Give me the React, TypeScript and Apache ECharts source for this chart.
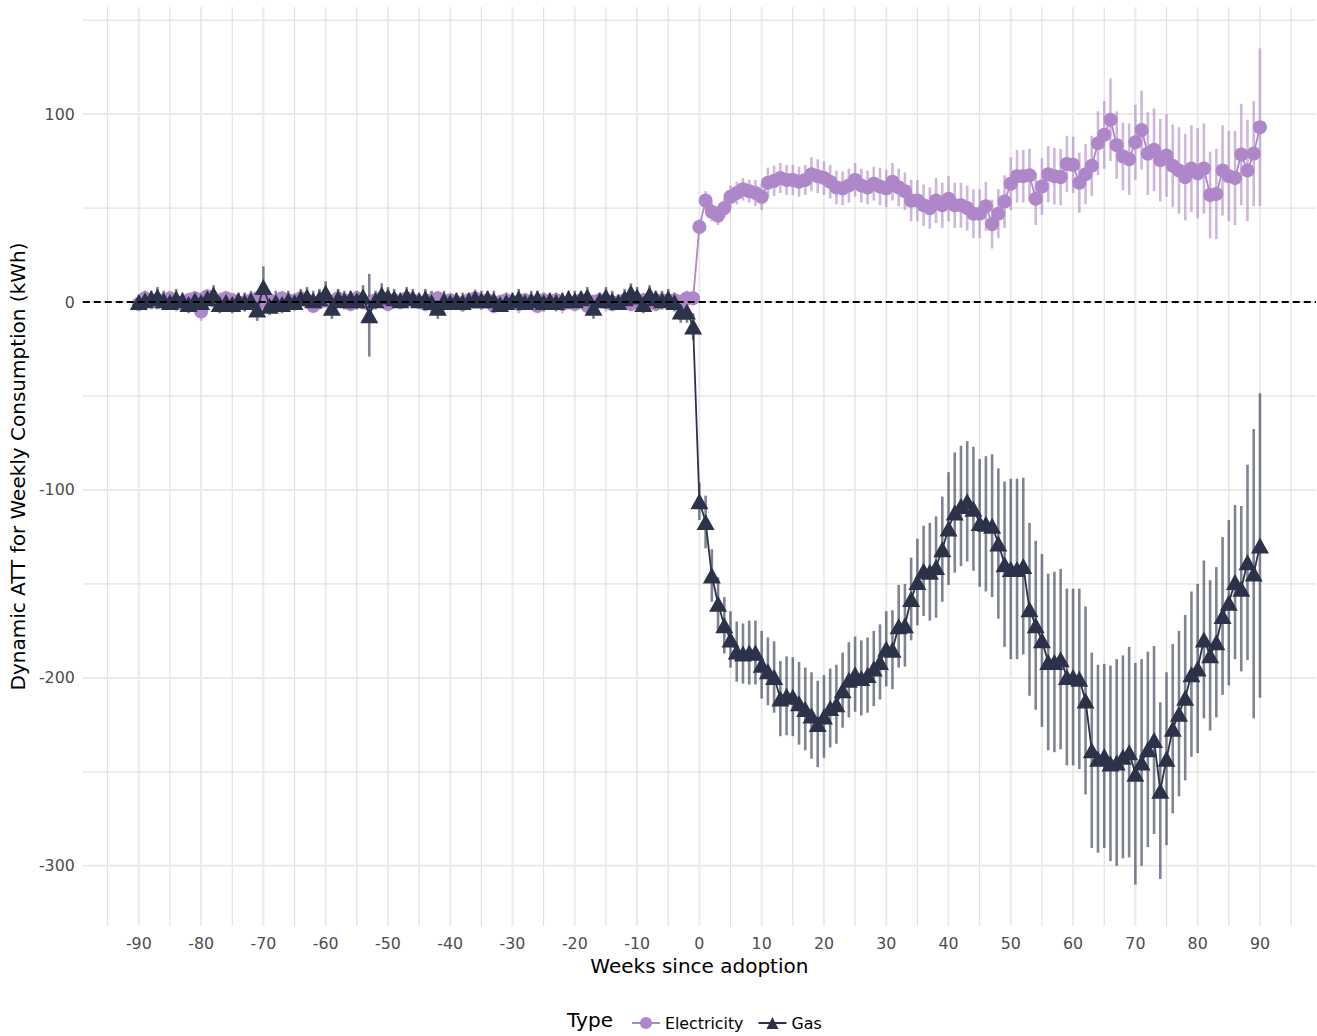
import React, { useEffect, useRef } from "react";
import * as echarts from "echarts";

const weeks: number[] = Array.from({ length: 181 }, (_, i) => i - 90);

const xMajor = [-90, -80, -70, -60, -50, -40, -30, -20, -10, 0, 10, 20, 30, 40, 50, 60, 70, 80, 90];
const xMinor = [-95, -85, -75, -65, -55, -45, -35, -25, -15, -5, 5, 15, 25, 35, 45, 55, 65, 75, 85, 95];
const yMajor = [-300, -200, -100, 0, 100];
const yMinor = [-250, -150, -50, 50, 150];

// Electricity, weeks -90..-1
const elecPre = [
  -1, 2, 1, 0, 1, 2, 0, -1, 1, 2,
  -5, 3, 1, 0, 2, 1, -1, 0, 1, 2,
  0, 1, -1, 2, 1, 0, 2, 1, -2, 0,
  1, 0, 2, 1, -1, 2, 0, -1, 1, 2,
  -1, 1, 0, 2, 1, 0, -1, 1, 2, 0,
  1, 0, -1, 1, 2, 0, 1, -2, 0, 1,
  0, -1, 1, 0, -2, 1, 0, 1, -1, 0,
  -1, 1, -2, 0, 1, 0, -1, 0, 1, -1,
  0, 1, 0, -1, 1, 0, 1, 0, 2, 2,
];
// Electricity, weeks 0..90
const elecPost = [
  40, 54, 48, 46, 50, 56, 58, 60, 59, 58,
  56, 63.5, 64.5, 66, 65, 65, 64, 65, 68, 67,
  66, 64, 61, 60.5, 62, 65, 62, 61, 63, 61.5,
  60.5, 64, 61, 59, 54, 54, 51.5, 50, 54, 51.5,
  55, 51.5, 51.5, 50, 47, 47, 51, 41.5, 47, 53.5,
  63, 67, 67, 67.5, 55, 61.5, 68, 67, 66.5, 73.5,
  73, 63.5, 68, 72.5, 84.5, 89, 97, 83.5, 77.5, 76,
  85, 91.5, 79, 81, 75.5, 78, 72.5, 70, 66.5, 71,
  68.5, 71, 57, 57.5, 70, 67, 66, 78.5, 70, 79,
  93,
];
const elecPreErr = [
  4, 4, 5, 4, 4, 4, 5, 4, 4, 4,
  5, 4, 4, 5, 4, 4, 4, 5, 4, 4,
  4, 5, 4, 4, 4, 5, 4, 4, 4, 4,
  4, 4, 5, 4, 4, 4, 4, 5, 4, 4,
  4, 4, 4, 5, 4, 4, 4, 4, 4, 5,
  4, 4, 4, 4, 5, 4, 4, 4, 4, 4,
  4, 5, 4, 4, 4, 4, 4, 4, 5, 4,
  4, 4, 4, 4, 4, 5, 4, 4, 4, 4,
  4, 4, 4, 4, 4, 4, 4, 4, 4, 4,
];
const elecPostErr = [
  4, 5, 5, 5, 5, 6, 6, 6, 6, 7,
  7, 8, 8, 8, 8, 8, 8, 8, 9, 9,
  9, 9, 9, 9, 9, 9, 9, 9, 9, 10,
  10, 10, 10, 10, 11, 11, 11, 11, 12, 12,
  12, 12, 12, 12, 13, 13, 13, 13, 13, 14,
  14, 14, 14, 14, 14, 15, 15, 15, 15, 15,
  15, 16, 16, 16, 17, 18, 22, 18, 18, 19,
  20, 21, 22, 22, 22, 22, 22, 23, 23, 23,
  24, 24, 23, 24, 24, 24, 25, 27, 27, 28,
  42,
];

// Gas, weeks -90..-1
const gasPre = [
  0, 1, 2, 3, 1, 0, 2, 1, -1, 1,
  0, 2, 4, -1, 0, -1, 1, 0, 1, -4,
  8, -2, 0, -1, 1, 0, 2, 3, 1, 2,
  5, -3, 2, 1, 2, 1, 3, -7, 1, 4,
  3, 2, 1, 3, 2, 1, 2, 0, -3, 1,
  0, 1, 0, 1, 2, 1, 2, 1, -1, 0,
  1, 2, 0, 1, 2, 0, 1, 0, 1, 2,
  1, 2, 3, -3, 1, 3, 1, 0, 2, 5,
  3, -1, 4, 2, 1, 2, 0, -5, -5, -13,
];
// Gas, weeks 0..90
const gasPost = [
  -106, -117, -145.5, -160.5, -172, -179.5, -186, -187, -186.5, -186.5,
  -193, -196.5, -199.5, -211, -209.5, -210, -213.5, -216.5, -220, -224.5,
  -220.5, -216, -214, -206.5, -201, -198, -200, -198.5, -195, -191.5,
  -184.5, -185, -172.5, -172, -158, -149, -143, -143.5, -141, -131.5,
  -120.5, -112, -108.5, -106, -110, -117.5, -118, -119, -128.5, -139.5,
  -142, -142, -140.5, -163.5, -172, -180, -191.5, -191.5, -190, -199.5,
  -199.5, -200.5, -212, -238.5, -243, -241.5, -245.5, -245, -242, -239.5,
  -251, -245, -238, -233, -260, -243, -227, -219, -210.5, -198,
  -195, -179.5, -188, -181, -167, -160, -149, -152.5, -138.5, -144.5,
  -129.5,
];
const gasPreErr = [
  4, 5, 4, 5, 5, 4, 5, 4, 5, 4,
  5, 4, 5, 5, 4, 5, 4, 5, 5, 6,
  11, 5, 6, 5, 5, 4, 5, 5, 5, 5,
  6, 6, 5, 5, 4, 5, 6, 22, 5, 6,
  5, 5, 4, 5, 5, 4, 5, 6, 6, 5,
  4, 4, 5, 4, 4, 5, 4, 5, 4, 5,
  4, 5, 4, 5, 4, 5, 4, 5, 4, 4,
  5, 4, 5, 6, 4, 5, 5, 4, 5, 5,
  5, 5, 5, 4, 5, 5, 5, 6, 6, 7,
];
const gasPostErr = [
  10, 14, 14, 14, 15, 15, 16, 16, 17, 17,
  18, 18, 19, 20, 21, 21, 22, 22, 23, 23,
  22, 21, 21, 20, 20, 20, 20, 20, 20, 20,
  20, 21, 22, 22, 22, 23, 24, 26, 27, 28,
  30, 32, 32, 32, 33, 34, 36, 38, 40, 44,
  48, 48, 47, 46, 45, 46, 47, 48, 48, 47,
  47, 48, 50, 52, 50, 49, 52, 55, 54, 56,
  59, 55, 52, 50, 47, 46, 45, 44, 44, 44,
  45, 42, 40, 40, 42, 44, 41, 44, 52, 77,
  81,
];

const elecVals = [...elecPre, ...elecPost];
const elecErr = [...elecPreErr, ...elecPostErr];
const gasVals = [...gasPre, ...gasPost];
const gasErr = [...gasPreErr, ...gasPostErr];

const PURPLE = "#AE87C9";
const NAVY = "#2C3249";
const FONT = "DejaVu Sans";

function errSeries(name: string, vals: number[], errs: number[], color: string) {
  return {
    name,
    type: "custom",
    z: 1,
    silent: true,
    data: weeks.map((w, i) => [w, vals[i] - errs[i], vals[i] + errs[i]]),
    encode: { x: 0, y: [1, 2] },
    renderItem: (params: any, api: any) => {
      const x = api.value(0);
      const p1 = api.coord([x, api.value(1)]);
      const p2 = api.coord([x, api.value(2)]);
      return {
        type: "line",
        shape: { x1: p1[0], y1: p1[1], x2: p2[0], y2: p2[1] },
        style: { stroke: color, lineWidth: 2.6 },
      };
    },
  };
}

function vGrid(name: string, vals: number[], width: number, color: string) {
  return {
    name,
    type: "custom",
    z: 0,
    silent: true,
    data: vals.map((v) => [v, 0]),
    encode: { x: 0, y: 1 },
    renderItem: (params: any, api: any) => {
      const cs = params.coordSys;
      const x = api.coord([api.value(0), 0])[0];
      return {
        type: "line",
        shape: { x1: x, y1: cs.y, x2: x, y2: cs.y + cs.height },
        style: { stroke: color, lineWidth: width },
      };
    },
  };
}

function hGrid(name: string, vals: number[], width: number, color: string, dash?: number[], z = 0) {
  return {
    name,
    type: "custom",
    z,
    silent: true,
    data: vals.map((v) => [0, v]),
    encode: { x: 0, y: 1 },
    renderItem: (params: any, api: any) => {
      const cs = params.coordSys;
      const y = api.coord([0, api.value(1)])[1];
      return {
        type: "line",
        shape: { x1: cs.x, y1: y, x2: cs.x + cs.width, y2: y },
        style: { stroke: color, lineWidth: width, lineDash: dash },
      };
    },
  };
}

export default function App() {
  const ref = useRef<HTMLDivElement>(null);
  useEffect(() => {
    if (!ref.current) return;
    const chart = echarts.init(ref.current, undefined, { renderer: "svg" });
    chart.setOption({
      animation: false,
      backgroundColor: "#ffffff",
      grid: { left: 80, right: 1, top: 7, bottom: 110, containLabel: false },
      xAxis: {
        type: "value",
        min: -99,
        max: 99,
        name: "Weeks since adoption",
        nameLocation: "middle",
        nameGap: 28,
        nameTextStyle: { fontFamily: FONT, fontSize: 20, color: "#000" },
        axisLine: { show: false },
        axisTick: { show: false },
        splitLine: { show: false },
        axisLabel: {
          customValues: xMajor,
          fontFamily: FONT,
          fontSize: 15.8,
          color: "#4D4D4D",
          margin: 9,
        },
      },
      yAxis: {
        type: "value",
        min: -332,
        max: 157,
        name: "Dynamic ATT for Weekly Consumption (kWh)",
        nameLocation: "middle",
        nameGap: 52,
        nameTextStyle: { fontFamily: FONT, fontSize: 20, color: "#000" },
        axisLine: { show: false },
        axisTick: { show: false },
        splitLine: { show: false },
        axisLabel: {
          customValues: yMajor,
          fontFamily: FONT,
          fontSize: 15.8,
          color: "#4D4D4D",
          margin: 8,
        },
      },
      legend: {
        data: ["Electricity", "Gas"],
        left: 626,
        top: 1010,
        itemWidth: 28,
        itemHeight: 15,
        itemGap: 14,
        textStyle: { fontFamily: FONT, fontSize: 15.8, color: "#000" },
      },
      graphic: [
        {
          type: "text",
          left: 567,
          top: 1010,
          style: { text: "Type", font: `20px '${FONT}'`, fill: "#000" },
        },
      ],
      series: [
        vGrid("gx-minor", xMinor, 1, "#DCDCDC"),
        vGrid("gx-major", xMajor, 2, "#EBEBEB"),
        hGrid("gy-minor", yMinor, 1, "#DCDCDC"),
        hGrid("gy-major", yMajor, 2, "#EBEBEB"),
        errSeries("elec-err", elecVals, elecErr, "rgba(174,135,201,0.6)"),
        errSeries("gas-err", gasVals, gasErr, "rgba(44,50,73,0.6)"),
        {
          name: "Electricity",
          type: "line",
          z: 2,
          data: weeks.map((w, i) => [w, elecVals[i]]),
          symbol: "circle",
          symbolSize: 14,
          showAllSymbol: true,
          lineStyle: { color: PURPLE, width: 1.8 },
          itemStyle: { color: PURPLE, borderWidth: 0 },
        },
        {
          name: "Gas",
          type: "line",
          z: 3,
          data: weeks.map((w, i) => [w, gasVals[i]]),
          symbol: "triangle",
          symbolSize: [18, 16],
          showAllSymbol: true,
          lineStyle: { color: NAVY, width: 1.8 },
          itemStyle: { color: NAVY, borderWidth: 0 },
        },
        hGrid("zero", [0], 2, "#000000", [7, 4], 5),
      ],
    });
    return () => chart.dispose();
  }, []);
  return (
    <div
      ref={ref}
      style={{ position: "fixed", left: 0, top: 0, width: 1317, height: 1036 }}
    />
  );
}
